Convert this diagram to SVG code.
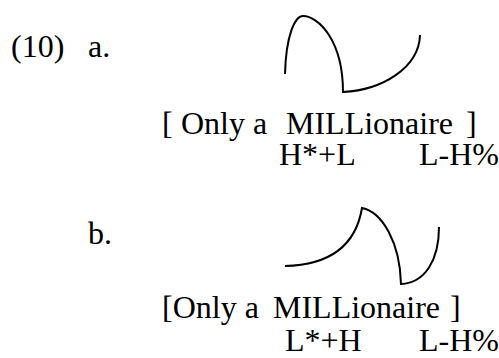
<svg xmlns="http://www.w3.org/2000/svg" width="499" height="358" viewBox="0 0 499 358">
<style>
text{font-family:"Liberation Serif","Times New Roman",serif;font-size:32px;fill:#000}
.c{fill:none;stroke:#000;stroke-width:2;stroke-linejoin:miter}
</style>
<rect width="499" height="358" fill="#fff"/>
<g id="ex-a">
<text x="11" y="57">(10)</text>
<text x="88" y="57">a.</text>
<path class="c" d="M285,74 C286,35 295,16 303,16 C318,16 343,40 343,92 C382,90 419,68 420,35"/>
<text x="162" y="134">[</text>
<text x="181" y="134">Only a</text>
<text x="286" y="134">MILLionaire</text>
<text x="466" y="134">]</text>
<text x="279" y="165">H*+L</text>
<text x="419" y="165">L-H%</text>
</g>
<g id="ex-b">
<text x="88" y="244">b.</text>
<path class="c" d="M285,266 C325,265 355,250 362,208 C382,212 400,242 401,284 C425,283 439,260 439,227"/>
<text x="162" y="318">[Only a</text>
<text x="273" y="318">MILLionaire</text>
<text x="450" y="318">]</text>
<text x="285" y="351">L*+H</text>
<text x="419" y="351">L-H%</text>
</g>
</svg>
